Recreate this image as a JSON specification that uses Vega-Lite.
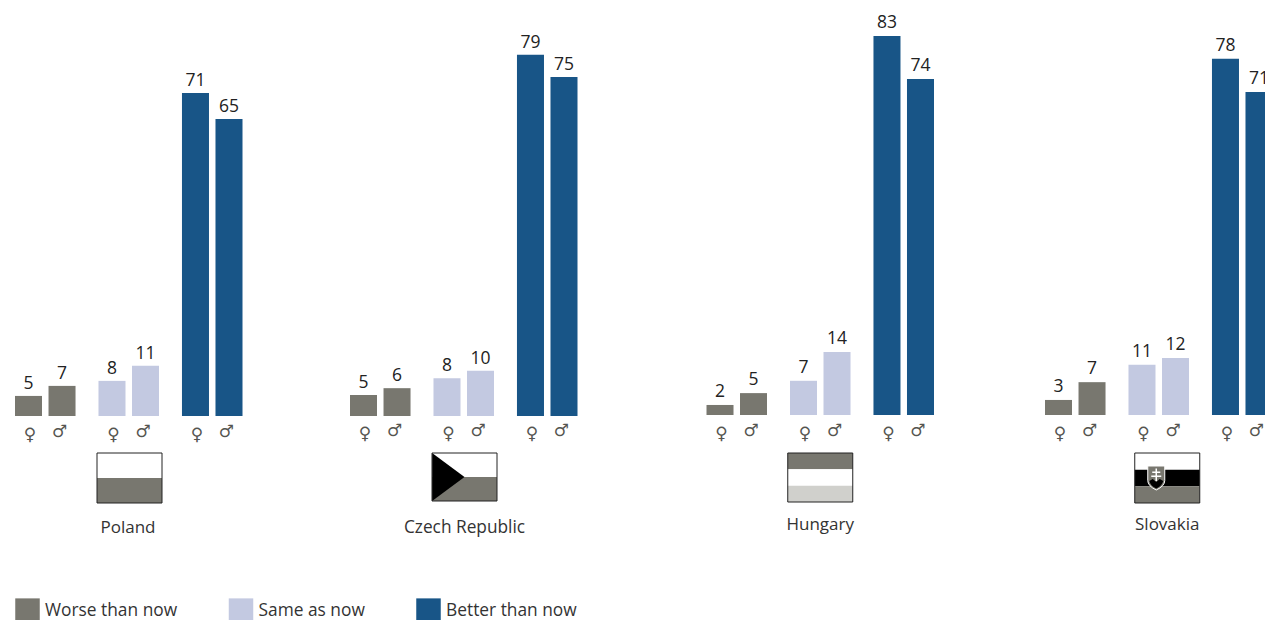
{"$schema":"https://vega.github.io/schema/vega-lite/v6.json","padding":{"left":15,"top":0,"right":0,"bottom":0},"background":"white","config":{"view":{"stroke":null},"font":"Open Sans"},"datasets":{"rows":[
{"country":"Poland","response":"Worse than now","sex":"Female","share":4.4,"label":"5"},{"country":"Poland","response":"Worse than now","sex":"Male","share":6.6,"label":"7"},{"country":"Poland","response":"Same as now","sex":"Female","share":7.7,"label":"8"},{"country":"Poland","response":"Same as now","sex":"Male","share":11,"label":"11"},{"country":"Poland","response":"Better than now","sex":"Female","share":70.8,"label":"71"},{"country":"Poland","response":"Better than now","sex":"Male","share":65.1,"label":"65"},
{"country":"Czech Republic","response":"Worse than now","sex":"Female","share":4.6,"label":"5"},{"country":"Czech Republic","response":"Worse than now","sex":"Male","share":6.1,"label":"6"},{"country":"Czech Republic","response":"Same as now","sex":"Female","share":8.3,"label":"8"},{"country":"Czech Republic","response":"Same as now","sex":"Male","share":9.9,"label":"10"},{"country":"Czech Republic","response":"Better than now","sex":"Female","share":79.2,"label":"79"},{"country":"Czech Republic","response":"Better than now","sex":"Male","share":74.3,"label":"75"},
{"country":"Hungary","response":"Worse than now","sex":"Female","share":2.2,"label":"2"},{"country":"Hungary","response":"Worse than now","sex":"Male","share":4.8,"label":"5"},{"country":"Hungary","response":"Same as now","sex":"Female","share":7.5,"label":"7"},{"country":"Hungary","response":"Same as now","sex":"Male","share":13.8,"label":"14"},{"country":"Hungary","response":"Better than now","sex":"Female","share":83.1,"label":"83"},{"country":"Hungary","response":"Better than now","sex":"Male","share":73.7,"label":"74"},
{"country":"Slovakia","response":"Worse than now","sex":"Female","share":3.3,"label":"3"},{"country":"Slovakia","response":"Worse than now","sex":"Male","share":7.2,"label":"7"},{"country":"Slovakia","response":"Same as now","sex":"Female","share":11,"label":"11"},{"country":"Slovakia","response":"Same as now","sex":"Male","share":12.5,"label":"12"},{"country":"Slovakia","response":"Better than now","sex":"Female","share":78.1,"label":"78"},{"country":"Slovakia","response":"Better than now","sex":"Male","share":70.8,"label":"71"}
]},
"spacing":127.5,"hconcat":[
{"spacing":106,"hconcat":[
{"bounds":"flush","spacing":37,"vconcat":[
{"width":227.5,"height":416,"transform":[{"filter":"datum.country==='Poland'"}],"data":{"name":"rows"},
"encoding":{"x":{"field":"response","type":"nominal","axis":null,"scale":{"domain":["Worse than now","Same as now","Better than now"],"paddingInner":0.275,"paddingOuter":0}},"xOffset":{"field":"sex","type":"nominal","scale":{"domain":["Female","Male"],"paddingInner":0.194,"paddingOuter":0}},"y":{"field":"share","type":"quantitative","axis":null,"scale":{"domain":[0,91.2],"nice":false}}},
"layer":[
{"mark":{"type":"bar"},"encoding":{"color":{"field":"response","type":"nominal","scale":{"domain":["Worse than now","Same as now","Better than now"],"range":["#78776F","#C3C9E1","#185587"]},"legend":{"title":null,"orient":"none","legendX":0,"legendY":598,"direction":"horizontal","columns":3,"columnPadding":50.5,"symbolType":"square","symbolSize":600,"symbolStrokeWidth":0,"symbolOpacity":1,"labelFontSize":17.35,"labelColor":"#333333","labelFont":"Open Sans","labelOffset":5,"padding":0,"labelLimit":300}}}},
{"mark":{"type":"text","fontSize":17.5,"color":"#222222","dy":-7,"baseline":"alphabetic"},"encoding":{"text":{"field":"label","type":"nominal"}}},
{"transform":[{"filter":"datum.sex==='Female'"}],"mark":{"type":"text","text":"♀","font":"DejaVu Sans","fontSize":17,"color":"#555550","dy":19,"dx":1.5,"baseline":"middle"},"encoding":{"y":{"datum":0}}},
{"transform":[{"filter":"datum.sex==='Male'"}],"mark":{"type":"text","text":"♂","font":"DejaVu Sans","fontSize":17,"color":"#555550","dy":16,"dx":-2.5,"baseline":"middle"},"encoding":{"y":{"datum":0}}}
]},
{"width":229,"height":50,"data":{"values":[{"stripe":"1","colour":"white"},{"stripe":"2","colour":"grey"}]},
"layer":[
{"mark":{"type":"bar","width":65},"encoding":{"x":{"datum":"Same as now","type":"nominal","axis":null,"scale":{"domain":["Worse than now","Same as now","Better than now"],"paddingInner":0.275,"paddingOuter":0}},"y":{"field":"stripe","type":"nominal","axis":null,"scale":{"paddingInner":0,"paddingOuter":0}},"fill":{"field":"colour","type":"nominal","legend":null,"scale":{"domain":["white","grey","silver","black"],"range":["#FFFFFF","#78776F","#D0D0CC","#000000"]}}}},
{"data":{"values":[{"name":"Poland"}]},"mark":{"type":"bar","width":65,"fillOpacity":0,"stroke":"#222222","strokeWidth":1},"encoding":{"x":{"datum":"Same as now","type":"nominal","axis":null}}},
{"data":{"values":[{"name":"Poland"}]},"mark":{"type":"text","fontSize":17,"color":"#333333","dy":50,"dx":-1.5,"baseline":"middle"},"encoding":{"x":{"datum":"Same as now","type":"nominal","axis":null},"text":{"field":"name","type":"nominal"}}}
]}
]},
{"bounds":"flush","spacing":37,"vconcat":[
{"width":227.5,"height":416,"transform":[{"filter":"datum.country==='Czech Republic'"}],"data":{"name":"rows"},
"encoding":{"x":{"field":"response","type":"nominal","axis":null,"scale":{"domain":["Worse than now","Same as now","Better than now"],"paddingInner":0.275,"paddingOuter":0}},"xOffset":{"field":"sex","type":"nominal","scale":{"domain":["Female","Male"],"paddingInner":0.194,"paddingOuter":0}},"y":{"field":"share","type":"quantitative","axis":null,"scale":{"domain":[0,91.2],"nice":false}}},
"layer":[
{"mark":{"type":"bar"},"encoding":{"color":{"field":"response","type":"nominal","scale":{"domain":["Worse than now","Same as now","Better than now"],"range":["#78776F","#C3C9E1","#185587"]},"legend":null}}},
{"mark":{"type":"text","fontSize":17.5,"color":"#222222","dy":-7,"baseline":"alphabetic"},"encoding":{"text":{"field":"label","type":"nominal"}}},
{"transform":[{"filter":"datum.sex==='Female'"}],"mark":{"type":"text","text":"♀","font":"DejaVu Sans","fontSize":17,"color":"#555550","dy":18,"dx":1.5,"baseline":"middle"},"encoding":{"y":{"datum":0}}},
{"transform":[{"filter":"datum.sex==='Male'"}],"mark":{"type":"text","text":"♂","font":"DejaVu Sans","fontSize":17,"color":"#555550","dy":15,"dx":-2.5,"baseline":"middle"},"encoding":{"y":{"datum":0}}}
]},
{"width":229,"height":48,"data":{"values":[{"stripe":"1","colour":"white"},{"stripe":"2","colour":"grey"}]},
"layer":[
{"mark":{"type":"bar","width":65},"encoding":{"x":{"datum":"Same as now","type":"nominal","axis":null,"scale":{"domain":["Worse than now","Same as now","Better than now"],"paddingInner":0.275,"paddingOuter":0}},"y":{"field":"stripe","type":"nominal","axis":null,"scale":{"paddingInner":0,"paddingOuter":0}},"fill":{"field":"colour","type":"nominal","legend":null,"scale":{"domain":["white","grey","silver","black"],"range":["#FFFFFF","#78776F","#D0D0CC","#000000"]}}}},
{"data":{"values":[{"name":"Czech Republic"}]},"mark":{"type":"point","shape":"M-1.35 -1 L0 0 L-1.35 1 Z","size":2304,"filled":true,"fill":"#000000","opacity":1,"strokeWidth":0},"encoding":{"x":{"datum":"Same as now","type":"nominal","axis":null}}},
{"data":{"values":[{"name":"Czech Republic"}]},"mark":{"type":"bar","width":65,"fillOpacity":0,"stroke":"#222222","strokeWidth":1},"encoding":{"x":{"datum":"Same as now","type":"nominal","axis":null}}},
{"data":{"values":[{"name":"Czech Republic"}]},"mark":{"type":"text","fontSize":17.3,"color":"#333333","dy":50.5,"baseline":"middle"},"encoding":{"x":{"datum":"Same as now","type":"nominal","axis":null},"text":{"field":"name","type":"nominal"}}}
]}
]}
]},
{"spacing":110.5,"hconcat":[
{"bounds":"flush","spacing":38,"vconcat":[
{"width":227.5,"height":415,"transform":[{"filter":"datum.country==='Hungary'"}],"data":{"name":"rows"},
"encoding":{"x":{"field":"response","type":"nominal","axis":null,"scale":{"domain":["Worse than now","Same as now","Better than now"],"paddingInner":0.275,"paddingOuter":0}},"xOffset":{"field":"sex","type":"nominal","scale":{"domain":["Female","Male"],"paddingInner":0.194,"paddingOuter":0}},"y":{"field":"share","type":"quantitative","axis":null,"scale":{"domain":[0,91],"nice":false}}},
"layer":[
{"mark":{"type":"bar"},"encoding":{"color":{"field":"response","type":"nominal","scale":{"domain":["Worse than now","Same as now","Better than now"],"range":["#78776F","#C3C9E1","#185587"]},"legend":null}}},
{"mark":{"type":"text","fontSize":17.5,"color":"#222222","dy":-8,"baseline":"alphabetic"},"encoding":{"text":{"field":"label","type":"nominal"}}},
{"transform":[{"filter":"datum.sex==='Female'"}],"mark":{"type":"text","text":"♀","font":"DejaVu Sans","fontSize":17,"color":"#555550","dy":19,"dx":1.5,"baseline":"middle"},"encoding":{"y":{"datum":0}}},
{"transform":[{"filter":"datum.sex==='Male'"}],"mark":{"type":"text","text":"♂","font":"DejaVu Sans","fontSize":17,"color":"#555550","dy":16,"dx":-2.5,"baseline":"middle"},"encoding":{"y":{"datum":0}}}
]},
{"width":227.5,"height":49,"data":{"values":[{"stripe":"1","colour":"grey"},{"stripe":"2","colour":"white"},{"stripe":"3","colour":"silver"}]},
"layer":[
{"mark":{"type":"bar","width":65},"encoding":{"x":{"datum":"Same as now","type":"nominal","axis":null,"scale":{"domain":["Worse than now","Same as now","Better than now"],"paddingInner":0.275,"paddingOuter":0}},"y":{"field":"stripe","type":"nominal","axis":null,"scale":{"paddingInner":0,"paddingOuter":0}},"fill":{"field":"colour","type":"nominal","legend":null,"scale":{"domain":["white","grey","silver","black"],"range":["#FFFFFF","#78776F","#D0D0CC","#000000"]}}}},
{"data":{"values":[{"name":"Hungary"}]},"mark":{"type":"bar","width":65,"fillOpacity":0,"stroke":"#222222","strokeWidth":1},"encoding":{"x":{"datum":"Same as now","type":"nominal","axis":null}}},
{"data":{"values":[{"name":"Hungary"}]},"mark":{"type":"text","fontSize":17,"color":"#333333","dy":47,"baseline":"middle"},"encoding":{"x":{"datum":"Same as now","type":"nominal","axis":null},"text":{"field":"name","type":"nominal"}}}
]}
]},
{"bounds":"flush","spacing":38,"vconcat":[
{"width":227.5,"height":415,"transform":[{"filter":"datum.country==='Slovakia'"}],"data":{"name":"rows"},
"encoding":{"x":{"field":"response","type":"nominal","axis":null,"scale":{"domain":["Worse than now","Same as now","Better than now"],"paddingInner":0.275,"paddingOuter":0}},"xOffset":{"field":"sex","type":"nominal","scale":{"domain":["Female","Male"],"paddingInner":0.194,"paddingOuter":0}},"y":{"field":"share","type":"quantitative","axis":null,"scale":{"domain":[0,91],"nice":false}}},
"layer":[
{"mark":{"type":"bar"},"encoding":{"color":{"field":"response","type":"nominal","scale":{"domain":["Worse than now","Same as now","Better than now"],"range":["#78776F","#C3C9E1","#185587"]},"legend":null}}},
{"mark":{"type":"text","fontSize":17.5,"color":"#222222","dy":-8,"baseline":"alphabetic"},"encoding":{"text":{"field":"label","type":"nominal"}}},
{"transform":[{"filter":"datum.sex==='Female'"}],"mark":{"type":"text","text":"♀","font":"DejaVu Sans","fontSize":17,"color":"#555550","dy":19,"dx":1.5,"baseline":"middle"},"encoding":{"y":{"datum":0}}},
{"transform":[{"filter":"datum.sex==='Male'"}],"mark":{"type":"text","text":"♂","font":"DejaVu Sans","fontSize":17,"color":"#555550","dy":16,"dx":-2.5,"baseline":"middle"},"encoding":{"y":{"datum":0}}}
]},
{"width":244.5,"height":50,"data":{"values":[{"stripe":"1","colour":"white"},{"stripe":"2","colour":"black"},{"stripe":"3","colour":"grey"}]},
"layer":[
{"mark":{"type":"bar","width":65},"encoding":{"x":{"datum":"Same as now","type":"nominal","axis":null,"scale":{"domain":["Worse than now","Same as now","Better than now"],"paddingInner":0.275,"paddingOuter":0}},"y":{"field":"stripe","type":"nominal","axis":null,"scale":{"paddingInner":0,"paddingOuter":0}},"fill":{"field":"colour","type":"nominal","legend":null,"scale":{"domain":["white","grey","silver","black"],"range":["#FFFFFF","#78776F","#D0D0CC","#000000"]}}}},
{"data":{"values":[{"name":"Slovakia"}]},"mark":{"type":"point","shape":"M-0.78 -0.48 H-0.1 V0.1 Q-0.1 0.32 -0.44 0.48 Q-0.78 0.32 -0.78 0.1 Z","size":2500,"filled":true,"fill":"#78776F","stroke":"#FFFFFF","strokeWidth":1,"opacity":1},"encoding":{"x":{"datum":"Same as now","type":"nominal","axis":null}}},
{"data":{"values":[{"name":"Slovakia"}]},"mark":{"type":"point","shape":"M-0.47 -0.38 H-0.41 V-0.26 H-0.28 V-0.2 H-0.41 V-0.1 H-0.24 V-0.04 H-0.41 V0.12 H-0.47 V-0.04 H-0.64 V-0.1 H-0.47 V-0.2 H-0.6 V-0.26 H-0.47 Z","size":2500,"filled":true,"fill":"#FFFFFF","strokeWidth":0,"opacity":1},"encoding":{"x":{"datum":"Same as now","type":"nominal","axis":null}}},
{"data":{"values":[{"name":"Slovakia"}]},"mark":{"type":"point","shape":"M-0.72 0.12 L-0.58 0.04 L-0.44 0.16 L-0.3 0.04 L-0.16 0.12 Q-0.2 0.3 -0.44 0.42 Q-0.68 0.3 -0.72 0.12 Z","size":2500,"filled":true,"fill":"#000000","strokeWidth":0,"opacity":1},"encoding":{"x":{"datum":"Same as now","type":"nominal","axis":null}}},
{"data":{"values":[{"name":"Slovakia"}]},"mark":{"type":"bar","width":65,"fillOpacity":0,"stroke":"#222222","strokeWidth":1},"encoding":{"x":{"datum":"Same as now","type":"nominal","axis":null}}},
{"data":{"values":[{"name":"Slovakia"}]},"mark":{"type":"text","fontSize":17,"color":"#333333","dy":47,"baseline":"middle"},"encoding":{"x":{"datum":"Same as now","type":"nominal","axis":null},"text":{"field":"name","type":"nominal"}}}
]}
]}
]}
]}
